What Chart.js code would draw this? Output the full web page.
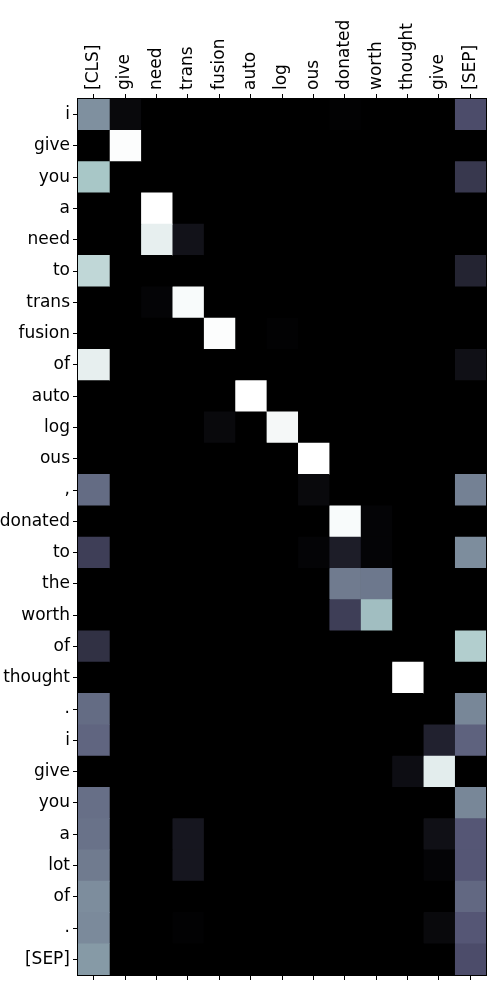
<!DOCTYPE html>
<html>
<head>
<meta charset="utf-8">
<script src="https://cdn.jsdelivr.net/npm/chart.js@4/dist/chart.umd.min.js"></script>
<style>
html,body{margin:0;padding:0;background:#fff;}
#wrap{width:500px;height:1000px;position:relative;}
</style>
</head>
<body>
<div id="wrap"><canvas id="c" width="500" height="1000"></canvas></div>
<script>
const colLabels = ["[CLS]","give","need","trans","fusion","auto","log","ous","donated","worth","thought","give","[SEP]"];
const rowLabels = ["i","give","you","a","need","to","trans","fusion","of","auto","log","ous",",","donated","to","the","worth","of","thought",".","i","give","you","a","lot","of",".","[SEP]"];
// attention weights, one row per query token, columns follow colLabels
const attention = [
  [0.57,0.04,0,0,0,0,0,0,0.01,0,0,0,0.34],
  [0,0.99,0,0,0,0,0,0,0,0,0,0,0],
  [0.75,0,0,0,0,0,0,0,0,0,0,0,0.25],
  [0,0,1.0,0,0,0,0,0,0,0,0,0,0],
  [0,0,0.93,0.08,0,0,0,0,0,0,0,0,0],
  [0.82,0,0,0,0,0,0,0,0,0,0,0,0.16],
  [0,0,0.02,0.98,0,0,0,0,0,0,0,0,0],
  [0,0,0,0,0.99,0,0.01,0,0,0,0,0,0],
  [0.93,0,0,0,0,0,0,0,0,0,0,0,0.07],
  [0,0,0,0,0,1.0,0,0,0,0,0,0,0],
  [0,0,0,0,0.04,0,0.97,0,0,0,0,0,0],
  [0,0,0,0,0,0,0,1.0,0,0,0,0,0],
  [0.45,0,0,0,0,0,0,0.04,0,0,0,0,0.52],
  [0,0,0,0,0,0,0,0,0.98,0.02,0,0,0],
  [0.28,0,0,0,0,0,0,0.02,0.13,0.02,0,0,0.56],
  [0,0,0,0,0,0,0,0,0.50,0.49,0,0,0],
  [0,0,0,0,0,0,0,0,0.28,0.72,0,0,0],
  [0.22,0,0,0,0,0,0,0,0,0,0,0,0.78],
  [0,0,0,0,0,0,0,0,0,0,1.0,0,0],
  [0.45,0,0,0,0,0,0,0,0,0,0,0,0.54],
  [0.43,0,0,0,0,0,0,0,0,0,0,0.15,0.42],
  [0,0,0,0,0,0,0,0,0,0,0.06,0.92,0],
  [0.46,0,0,0,0,0,0,0,0,0,0,0,0.54],
  [0.47,0,0,0.10,0,0,0,0,0,0,0,0.07,0.38],
  [0.50,0,0,0.10,0,0,0,0,0,0,0,0.02,0.38],
  [0.56,0,0,0,0,0,0,0,0,0,0,0,0.44],
  [0.55,0,0,0.01,0,0,0,0,0,0,0,0.04,0.38],
  [0.60,0,0,0,0,0,0,0,0,0,0,0,0.34]
];

// matplotlib "bone" colormap
function interp(seg, v){
  for (let i=1;i<seg.length;i++){
    if (v <= seg[i][0]){
      const [x0,y0]=seg[i-1],[x1,y1]=seg[i];
      return y0 + (y1-y0)*(v-x0)/(x1-x0);
    }
  }
  return seg[seg.length-1][1];
}
const boneR=[[0,0],[0.746032,0.652778],[1,1]];
const boneG=[[0,0],[0.365079,0.319444],[0.746032,0.777778],[1,1]];
const boneB=[[0,0],[0.365079,0.444444],[1,1]];
function bone(v){
  v=Math.max(0,Math.min(1,v));
  const r=Math.round(interp(boneR,v)*255),g=Math.round(interp(boneG,v)*255),b=Math.round(interp(boneB,v)*255);
  return `rgb(${r},${g},${b})`;
}

const datasets = colLabels.map((c,j)=>({
  label:c,
  data: rowLabels.map(()=>[j,j+1]),
  backgroundColor: ctx => bone(attention[ctx.dataIndex][j]),
  borderWidth:0,
  borderSkipped:false,
  grouped:false,
  barPercentage:1,
  categoryPercentage:1
}));

const colTicks = colLabels.map((c,j)=>j+0.5);
const FS = 17;
const font = {family:"'DejaVu Sans', sans-serif", size:FS, lineHeight:1.2};

const frame = {
  id:'frame',
  beforeDatasetsDraw(chart){
    const a=chart.chartArea, ctx=chart.ctx;
    ctx.save(); ctx.fillStyle='#000'; ctx.fillRect(a.left,a.top,a.right-a.left,a.bottom-a.top); ctx.restore();
  },
  afterDraw(chart){
    const a=chart.chartArea, ctx=chart.ctx;
    ctx.save(); ctx.strokeStyle='#000'; ctx.lineWidth=1;
    ctx.strokeRect(Math.round(a.left)-0.5,Math.round(a.top)-0.5,Math.round(a.right-a.left)+1,Math.round(a.bottom-a.top)+1);
    ctx.restore();
  }
};

new Chart(document.getElementById('c'),{
  type:'bar',
  data:{labels:rowLabels,datasets},
  options:{
    indexAxis:'y',
    responsive:false,
    animation:false,
    layout:{padding:{left:0,right:14,top:0,bottom:0}},
    plugins:{legend:{display:false},tooltip:{enabled:false}},
    scales:{
      y:{
        type:'category',
        position:'left',
        offset:true,
        grid:{offset:false,drawOnChartArea:false,drawTicks:true,tickLength:5,color:'#000'},
        border:{display:true,color:'#000'},
        ticks:{color:'#000',font,padding:3,autoSkip:false},
        afterFit(s){s.width=78;}
      },
      x:{
        type:'linear',
        position:'top',
        min:0,max:13,
        afterBuildTicks(s){s.ticks=colTicks.map(v=>({value:v}));},
        grid:{drawOnChartArea:false,drawTicks:true,tickLength:5,color:'#000'},
        border:{display:true,color:'#000'},
        ticks:{color:'#000',font,padding:4,minRotation:90,maxRotation:90,autoSkip:false,
          labelOffset:FS*1.2,
          callback:(v)=>colLabels[Math.floor(v)]},
        afterFit(s){s.height=99;}
      },
      x2:{
        type:'linear',
        position:'bottom',
        min:0,max:13,
        afterBuildTicks(s){s.ticks=colTicks.map(v=>({value:v}));},
        grid:{drawOnChartArea:false,drawTicks:true,tickLength:5,color:'#000'},
        border:{display:true,color:'#000'},
        ticks:{color:'#000',font,padding:0,autoSkip:false,callback:()=>''},
        afterFit(s){s.height=25;}
      }
    }
  },
  plugins:[frame]
});
</script>
</body>
</html>
